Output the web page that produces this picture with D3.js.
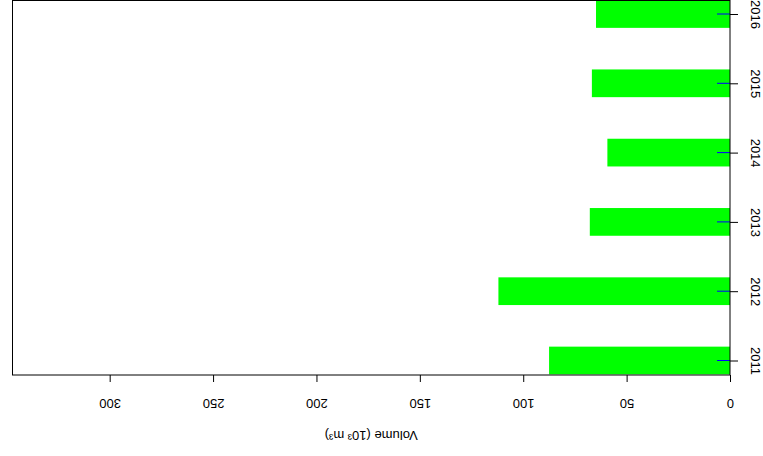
<!DOCTYPE html>
<html>
<head>
<meta charset="utf-8">
<script src="https://cdn.jsdelivr.net/npm/d3@7/dist/d3.min.js"></script>
<style>
  html, body { margin: 0; padding: 0; background: #fff; }
  svg { display: block; }
</style>
</head>
<body>
<svg id="chart" width="763" height="456"></svg>
<script>
// Annual volumes (thousand cubic metres)
const years = ["2011", "2012", "2013", "2014", "2015", "2016"];
const volumes = [87.5, 112, 67.8, 59.3, 66.8, 64.8];
const volumeTicks = [0, 50, 100, 150, 200, 250, 300];
const axisMax = 347;
const axisTitle = "Volume (10³ m³)";
const FONT = "Liberation Sans";

const svg = d3.select("#chart").attr("font-family", FONT);
const plot = { left: 12.5, right: 730, top: 0.5, bottom: 375 };

// Value axis runs right-to-left, with zero on the right edge
const x = d3.scaleLinear().domain([0, axisMax]).range([plot.right, plot.left]);
// Year positions run bottom-to-top
const y = d3.scalePoint().domain(years).range([360.5, 14]);
const barH = y.step() * 0.4;

// Bars
svg.append("g").selectAll("rect")
  .data(years.map((yr, i) => ({ yr, v: volumes[i] })))
  .join("rect")
  .attr("x", d => x(d.v))
  .attr("width", d => x(0) - x(d.v))
  .attr("y", d => y(d.yr) - barH / 2)
  .attr("height", barH)
  .attr("fill", "#00ff00");

// Short blue reference marks at each year
svg.append("g").selectAll("line")
  .data(years)
  .join("line")
  .attr("x1", plot.right - 13).attr("x2", plot.right)
  .attr("y1", d => y(d)).attr("y2", d => y(d))
  .attr("stroke", "#0000ff").attr("stroke-width", 1);

// Plot frame
svg.append("rect")
  .attr("x", plot.left).attr("y", plot.top)
  .attr("width", plot.right - plot.left).attr("height", plot.bottom - plot.top)
  .attr("fill", "none").attr("stroke", "#000").attr("stroke-width", 1);

// Bottom value axis, labels turned upside down
const xAxis = svg.append("g")
  .attr("transform", `translate(0,${plot.bottom})`)
  .call(d3.axisBottom(x).tickValues(volumeTicks).tickSize(7).tickFormat(d3.format("d")))
  .attr("font-family", FONT);
xAxis.select(".domain").remove();
xAxis.selectAll(".tick line").attr("stroke", "#000");
xAxis.selectAll(".tick text")
  .attr("y", null).attr("dy", null)
  .attr("transform", "translate(0,28) rotate(180)")
  .attr("dominant-baseline", "central")
  .attr("text-anchor", "middle")
  .attr("font-size", 13).attr("fill", "#000");

// Right year axis, labels turned a quarter
const yAxis = svg.append("g")
  .attr("transform", `translate(${plot.right},0)`)
  .call(d3.axisRight(y).tickSize(8))
  .attr("font-family", FONT);
yAxis.select(".domain").remove();
yAxis.selectAll(".tick line").attr("stroke", "#000");
yAxis.selectAll(".tick text")
  .attr("x", null).attr("dy", null)
  .attr("transform", "translate(25,0) rotate(90)")
  .attr("dominant-baseline", "central")
  .attr("text-anchor", "middle")
  .attr("font-size", 13).attr("fill", "#000");

// Axis title
svg.append("text")
  .attr("transform", `translate(${(plot.left + plot.right) / 2},435) rotate(180)`)
  .attr("text-anchor", "middle")
  .attr("dominant-baseline", "central")
  .attr("font-size", 13)
  .text(axisTitle);
</script>
</body>
</html>
